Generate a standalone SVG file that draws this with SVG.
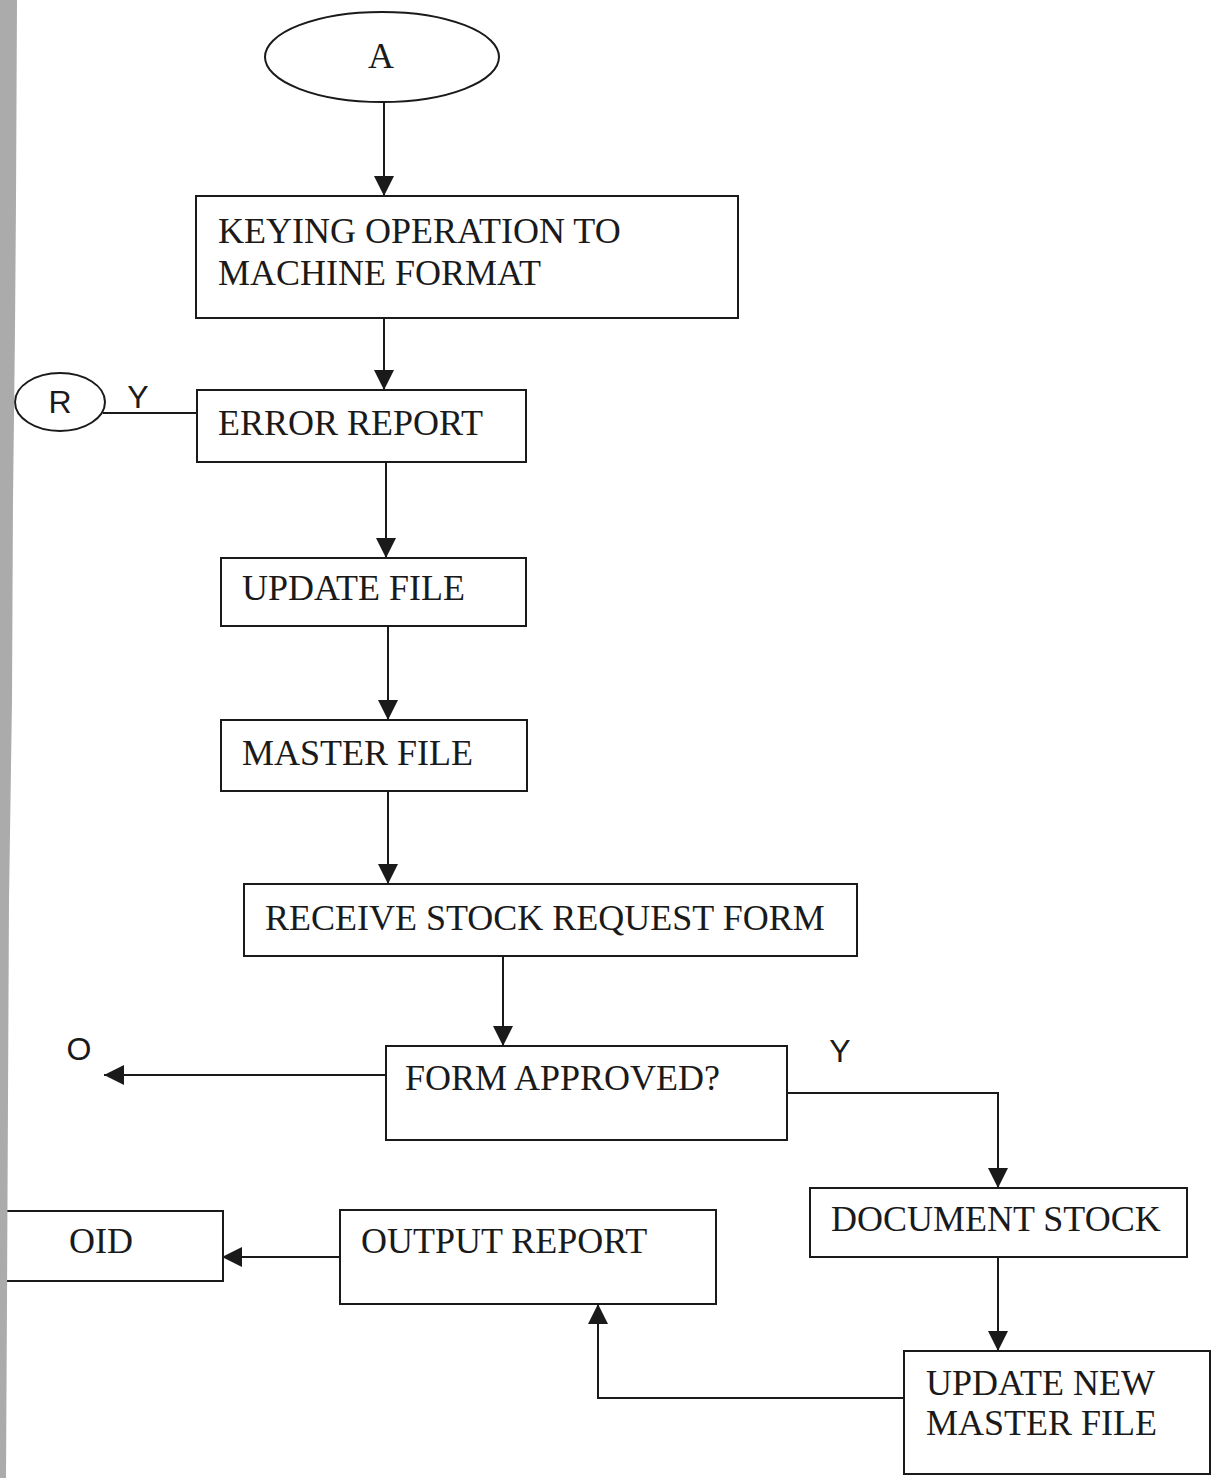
<svg xmlns="http://www.w3.org/2000/svg" width="1211" height="1478" viewBox="0 0 1211 1478">
<style>
.box{fill:#fff;stroke:#1a1a1a;stroke-width:2}
.ln{fill:none;stroke:#1a1a1a;stroke-width:2}
.t{font-family:"Liberation Serif","Times New Roman",serif;font-size:36px;fill:#1a1a1a}
.s{font-family:"Liberation Sans",Arial,sans-serif;font-size:32px;fill:#1a1a1a}
</style>
<defs>
<marker id="ah" viewBox="0 0 20 20" refX="20" refY="10" markerWidth="20" markerHeight="20" markerUnits="userSpaceOnUse" orient="auto">
<path d="M0,0 L20,10 L0,20 Z" fill="#1a1a1a"/>
</marker>
</defs>
<rect width="1211" height="1478" fill="#fff"/>
<g id="connectors">
<line class="ln" x1="384" y1="102" x2="384" y2="196" marker-end="url(#ah)"/>
<line class="ln" x1="384" y1="318" x2="384" y2="390" marker-end="url(#ah)"/>
<line class="ln" x1="103" y1="413" x2="197" y2="413"/>
<line class="ln" x1="386" y1="462" x2="386" y2="558" marker-end="url(#ah)"/>
<line class="ln" x1="388" y1="626" x2="388" y2="720" marker-end="url(#ah)"/>
<line class="ln" x1="388" y1="791" x2="388" y2="884" marker-end="url(#ah)"/>
<line class="ln" x1="503" y1="956" x2="503" y2="1046" marker-end="url(#ah)"/>
<line class="ln" x1="386" y1="1075" x2="104" y2="1075" marker-end="url(#ah)"/>
<polyline class="ln" points="787,1093 998,1093 998,1188" marker-end="url(#ah)"/>
<line class="ln" x1="998" y1="1257" x2="998" y2="1351" marker-end="url(#ah)"/>
<polyline class="ln" points="904,1398 598,1398 598,1304" marker-end="url(#ah)"/>
<line class="ln" x1="340" y1="1257" x2="222" y2="1257" marker-end="url(#ah)"/>
</g>
<g id="nodeA">
<ellipse class="box" cx="382" cy="57" rx="117" ry="45"/>
<text class="t" x="381" y="68" text-anchor="middle" font-size="34">A</text>
</g>
<g id="keying">
<rect class="box" x="196" y="196" width="542" height="122"/>
<text class="t" x="218" y="243">KEYING OPERATION TO</text>
<text class="t" x="218" y="285">MACHINE FORMAT</text>
</g>
<g id="connectorB">
<ellipse class="box" cx="60" cy="402" rx="45" ry="29"/>
<text class="s" x="60" y="413" text-anchor="middle" font-size="27">R</text>
</g>
<g id="errorReport">
<rect class="box" x="197" y="390" width="329" height="72"/>
<text class="t" x="218" y="435">ERROR REPORT</text>
</g>
<g id="updateFile">
<rect class="box" x="221" y="558" width="305" height="68"/>
<text class="t" x="242" y="600">UPDATE FILE</text>
</g>
<g id="masterFile">
<rect class="box" x="221" y="720" width="306" height="71"/>
<text class="t" x="242" y="765">MASTER FILE</text>
</g>
<g id="receive">
<rect class="box" x="244" y="884" width="613" height="72"/>
<text class="t" x="265" y="930">RECEIVE STOCK REQUEST FORM</text>
</g>
<g id="formApproved">
<rect class="box" x="386" y="1046" width="401" height="94"/>
<text class="t" x="405" y="1090">FORM APPROVED?</text>
</g>
<g id="documentStock">
<rect class="box" x="810" y="1188" width="377" height="69"/>
<text class="t" x="831" y="1231">DOCUMENT STOCK</text>
</g>
<g id="updateNewMaster">
<rect class="box" x="904" y="1351" width="306" height="123"/>
<text class="t" x="926" y="1395">UPDATE NEW</text>
<text class="t" x="926" y="1435">MASTER FILE</text>
</g>
<g id="outputReport">
<rect class="box" x="340" y="1210" width="376" height="94"/>
<text class="t" x="361" y="1253">OUTPUT REPORT</text>
</g>
<g id="oid">
<rect class="box" x="-10" y="1211" width="233" height="70"/>
<text class="t" x="69" y="1253">OID</text>
</g>
<g id="labels">
<text class="s" x="138" y="408" text-anchor="middle">Y</text>
<text class="s" x="79" y="1060" text-anchor="middle" font-size="28">O</text>
<text class="s" x="840" y="1062" text-anchor="middle">Y</text>
</g>
<polygon points="0,0 17,0 16,200 15,330 13,500 12,700 9,900 8,1100 7,1300 6,1478 0,1478" fill="#ababab"/>
</svg>
